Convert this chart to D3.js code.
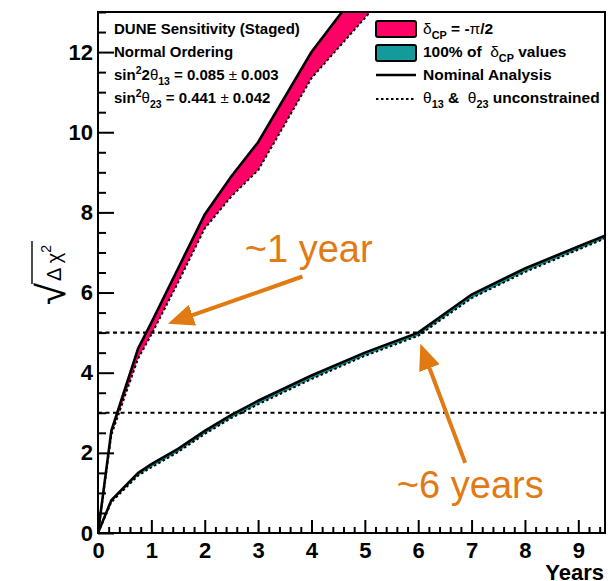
<!DOCTYPE html>
<html>
<head>
<meta charset="utf-8">
<script src="https://cdn.jsdelivr.net/npm/d3@7"></script>
<style>
body{margin:0;background:#fff;}
svg{display:block;font-family:"Liberation Sans",Arial,Helvetica,sans-serif;}
</style>
</head>
<body>
<svg width="611" height="581"></svg>
<script>
// exposure in years vs sqrt(delta chi2)
const redYears = [0, 0.25, 0.75, 1, 1.5, 2, 2.5, 3, 4, 5, 5.5];
const redNominal = [0, 2.55, 4.6, 5.25, 6.6, 7.95, 8.9, 9.75, 12.0, 13.75, 14.6];
const redUnconstrained = [0, 2.45, 4.35, 4.95, 6.25, 7.6, 8.4, 9.05, 11.35, 12.85, 13.6];

const tealYears = [0, 0.25, 0.75, 1, 1.5, 2, 2.5, 3, 4, 5, 6, 7, 8, 9, 9.5];
const tealNominal = [0, 0.82, 1.5, 1.72, 2.1, 2.55, 2.95, 3.3, 3.93, 4.5, 5.0, 5.95, 6.6, 7.15, 7.42];
const tealUnconstrained = [0, 0.77, 1.43, 1.64, 2.02, 2.47, 2.87, 3.21, 3.84, 4.42, 4.92, 5.86, 6.51, 7.07, 7.35];

const sigmaLevels = [3, 5];
const xTicks = [0, 1, 2, 3, 4, 5, 6, 7, 8, 9];
const yTicks = [0, 2, 4, 6, 8, 10, 12];

// arrows: [label, labelX, labelY, fromX, fromY, toX, toY] in data units
const notes = [
    ["~1 year", 2.75, 6.75, 3.83, 6.4, 1.31, 5.22],
    ["~6 years", 5.6, 0.88, 6.88, 1.75, 6.04, 4.72]
];

const PINK = "#ff0066", TEAL = "#149a9a", ORANGE = "#e27a14";

const svg = d3.select("svg"),
      margin = { top: 12, right: 6, bottom: 48, left: 98 },
      width = 611 - margin.left - margin.right,
      height = 581 - margin.top - margin.bottom,
      g = svg.append("g").attr("transform", `translate(${margin.left},${margin.top})`);

const x = d3.scaleLinear().domain([0, 9.5]).range([0, width]);
const y = d3.scaleLinear().domain([0, 13]).range([height, 0]);

svg.append("defs").append("clipPath").attr("id", "clip")
   .append("rect").attr("width", width).attr("height", height);

const line = d3.line().x(d => x(d[0])).y(d => y(d[1]));
const pts = (xs, ys) => xs.map((v, i) => [v, ys[i]]);

const plot = g.append("g").attr("clip-path", "url(#clip)");

function band(xs, hi, lo, color){
    const up = pts(xs, hi), dn = pts(xs, lo).reverse();
    plot.append("path").attr("d", line(up.concat(dn)) + "Z").attr("fill", color).attr("stroke", "none");
}
band(redYears, redNominal, redUnconstrained, PINK);
band(tealYears, tealNominal, tealUnconstrained, TEAL);

plot.selectAll(".sigma").data(sigmaLevels).enter().append("line")
    .attr("x1", 0).attr("x2", width)
    .attr("y1", d => y(d)).attr("y2", d => y(d))
    .attr("stroke", "#000").attr("stroke-width", 2.2).attr("stroke-dasharray", "4,3.5");

[[redYears, redNominal], [tealYears, tealNominal]].forEach(s => {
    plot.append("path").attr("d", line(pts(s[0], s[1])))
        .attr("fill", "none").attr("stroke", "#000").attr("stroke-width", 2.6);
});
[[redYears, redUnconstrained], [tealYears, tealUnconstrained]].forEach(s => {
    plot.append("path").attr("d", line(pts(s[0], s[1])))
        .attr("fill", "none").attr("stroke", "#000").attr("stroke-width", 2).attr("stroke-dasharray", "2.5,2.5");
});

// axes, ROOT style ticks inside the frame
const xMinor = d3.range(0, 9.5, 0.2).filter(v => Math.abs(v - Math.round(v)) > 0.01);
const yMinor = d3.range(0, 13.01, 0.5).filter(v => Math.abs(v / 2 - Math.round(v / 2)) > 0.01);

g.append("g").attr("transform", `translate(0,${height})`)
 .call(d3.axisBottom(x).tickValues(xMinor).tickSize(-6).tickFormat(""))
 .call(a => a.select(".domain").remove());
g.append("g").attr("transform", `translate(0,${height})`)
 .call(d3.axisBottom(x).tickValues(xTicks).tickSizeInner(-13).tickSizeOuter(0).tickPadding(9).tickFormat(d3.format("d")));
g.append("g")
 .call(d3.axisLeft(y).tickValues(yMinor).tickSize(-8).tickFormat(""))
 .call(a => a.select(".domain").remove());
g.append("g")
 .call(d3.axisLeft(y).tickValues(yTicks).tickSizeInner(-16).tickSizeOuter(0).tickPadding(5).tickFormat(d3.format("d")));

g.selectAll(".tick line").attr("stroke-width", 2);
g.selectAll(".tick text").attr("font-size", 22).attr("font-weight", "bold").attr("fill", "#000")
 .attr("font-family", '"Liberation Sans",Arial,sans-serif');

g.append("rect").attr("width", width).attr("height", height)
 .attr("fill", "none").attr("stroke", "#000").attr("stroke-width", 2);

// rich text helper
function rich(parent, px, py, parts, size){
    const t = parent.append("text").attr("x", px).attr("y", py)
        .attr("font-size", size).style("white-space", "pre");
    let shift = 0;
    parts.forEach(p => {
        let target = p.s == "sub" ? size * 0.32 : p.s == "sup" ? -size * 0.4 : 0;
        t.append("tspan").attr("dy", target - shift)
         .attr("font-size", p.s ? size * 0.7 : size)
         .attr("font-weight", p.n ? "normal" : "bold")
         .text(p.t);
        shift = target;
    });
    return t;
}

const info = [
    [{t: "DUNE Sensitivity (Staged)"}],
    [{t: "Normal Ordering"}],
    [{t: "sin"}, {t: "2", s: "sup"}, {t: "2"}, {t: "θ", n: 1}, {t: "13", s: "sub"}, {t: " = 0.085 "}, {t: "±", n: 1}, {t: " 0.003"}],
    [{t: "sin"}, {t: "2", s: "sup"}, {t: "θ", n: 1}, {t: "23", s: "sub"}, {t: " = 0.441 "}, {t: "±", n: 1}, {t: " 0.042"}]
];
info.forEach((p, i) => rich(svg, 114, 34 + i * 23, p, 15));

// legend
const leg = svg.append("g").attr("transform", "translate(376,0)");
leg.append("rect").attr("x", 0).attr("y", 21).attr("width", 40).attr("height", 16).attr("rx", 2)
   .attr("fill", PINK).attr("stroke", "#000").attr("stroke-width", 2);
leg.append("rect").attr("x", 0).attr("y", 45).attr("width", 40).attr("height", 16).attr("rx", 2)
   .attr("fill", TEAL).attr("stroke", "#000").attr("stroke-width", 2);
leg.append("line").attr("x1", 0).attr("x2", 40).attr("y1", 75).attr("y2", 75)
   .attr("stroke", "#000").attr("stroke-width", 2.6);
leg.append("line").attr("x1", 0).attr("x2", 40).attr("y1", 99).attr("y2", 99)
   .attr("stroke", "#000").attr("stroke-width", 2).attr("stroke-dasharray", "2.5,2.5");
const legItems = [
    [{t: "δ", n: 1}, {t: "CP", s: "sub"}, {t: " = -"}, {t: "π", n: 1}, {t: "/2"}],
    [{t: "100% of  "}, {t: "δ", n: 1}, {t: "CP", s: "sub"}, {t: " values"}],
    [{t: "Nominal Analysis"}],
    [{t: "θ", n: 1}, {t: "13", s: "sub"}, {t: " &  "}, {t: "θ", n: 1}, {t: "23", s: "sub"}, {t: " unconstrained"}]
];
legItems.forEach((p, i) => rich(leg, 47, 34 + i * 23, p, 15.5));

// axis titles
svg.append("text").attr("x", 604).attr("y", 580).attr("text-anchor", "end")
   .attr("font-size", 22).attr("font-weight", "bold").text("Years");

const yt = svg.append("g").attr("transform", "translate(63,303) rotate(-90)");
yt.append("text").attr("x", -2).attr("y", 2).attr("font-size", 40).attr("font-weight", "300")
  .attr("font-family", '"DejaVu Sans",sans-serif').text("√");
yt.append("line").attr("x1", 19).attr("x2", 62).attr("y1", -31).attr("y2", -31)
  .attr("stroke", "#000").attr("stroke-width", 1.4);
yt.append("text").attr("x", 22).attr("y", -2).attr("font-size", 20).style("white-space", "pre")
  .text("Δ χ").append("tspan").attr("dy", -10).attr("font-size", 14).text("2");

// orange annotations
svg.append("defs").append("marker").attr("id", "head")
   .attr("viewBox", "0 0 26 22").attr("markerWidth", 26).attr("markerHeight", 22)
   .attr("markerUnits", "userSpaceOnUse").attr("refX", 9).attr("refY", 11).attr("orient", "auto")
   .append("path").attr("d", "M0,0 L26,11 L0,22 Z").attr("fill", ORANGE);

const ann = g.selectAll(".note").data(notes).enter().append("g");
ann.append("line")
   .attr("x1", d => x(d[3])).attr("y1", d => y(d[4]))
   .attr("x2", d => { const dx = x(d[5]) - x(d[3]), dy = y(d[6]) - y(d[4]), l = Math.hypot(dx, dy); return x(d[5]) - dx / l * 17; })
   .attr("y2", d => { const dx = x(d[5]) - x(d[3]), dy = y(d[6]) - y(d[4]), l = Math.hypot(dx, dy); return y(d[6]) - dy / l * 17; })
   .attr("stroke", ORANGE).attr("stroke-width", 4).attr("marker-end", "url(#head)");
ann.append("text").attr("x", d => x(d[1])).attr("y", d => y(d[2]))
   .attr("font-size", 38).attr("fill", ORANGE).text(d => d[0]);
</script>
</body>
</html>
